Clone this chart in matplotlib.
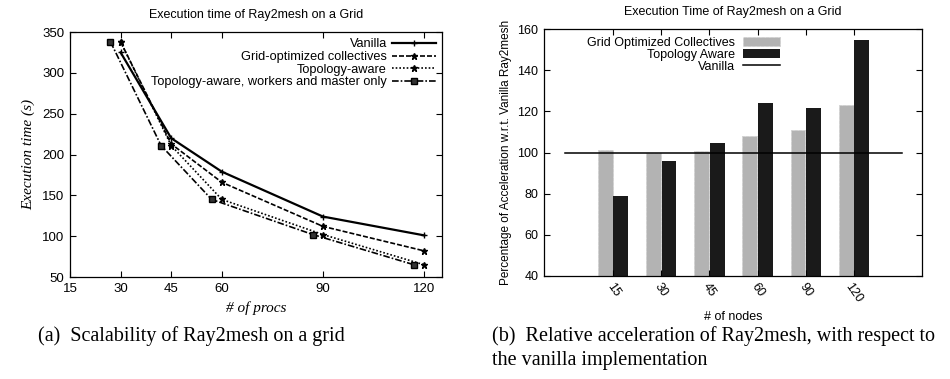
import matplotlib

matplotlib.use("Agg")

import matplotlib.pyplot as plt
import numpy as np

SANS = "Liberation Sans"
SERIF = "Liberation Serif"

# left panel: execution time vs number of procs
procs = [30, 45, 60, 90, 120]
procs_shifted = [27, 42, 57, 87, 117]
vanilla_time = [325, 220, 179, 124, 101]
gridopt_time = [338, 213, 166, 112, 82]
topo_time = [338, 211, 145, 102, 65]
topo_workers_time = [338, 211, 145, 102, 65]
left_xticks = [15, 30, 45, 60, 90, 120]

# right panel: acceleration percentage vs number of nodes
nodes = ["15", "30", "45", "60", "90", "120"]
gridopt_pct = [101, 100, 100.5, 108, 111, 123]
topo_pct = [79, 96, 104.5, 124, 121.5, 155]
vanilla_pct = 100

plt.rcParams["font.family"] = SANS
plt.rcParams["font.size"] = 9

fig = plt.figure(figsize=(9.5, 3.79), dpi=100)

# ---------- left ----------
ax1 = fig.add_axes([0.0737, 0.2691, 0.3916, 0.6464])
ax1.plot(procs, vanilla_time, color="black", lw=1.6, marker="+", ms=4, mew=1,
         label="Vanilla")
ax1.plot(procs, gridopt_time, color="black", lw=1.2, dashes=(3, 1.2), marker="*",
         ms=5, label="Grid-optimized collectives")
ax1.plot(procs, topo_time, color="black", lw=1.2, dashes=(1, 1.2), marker="*",
         ms=5, label="Topology-aware")
ax1.plot(procs_shifted, topo_workers_time, color="black", lw=1.2,
         dashes=(4, 1.2, 1, 1.2), marker="s", ms=4.5, mfc="#333333",
         label="Topology-aware, workers and master only")
ax1.set_xlim(15, 125.3)
ax1.set_ylim(50, 350)
ax1.set_xticks(left_xticks)
ax1.set_yticks(range(50, 351, 50))
ax1.tick_params(direction="in", top=True, right=True, length=4, labelsize=9.5,
                pad=4)
ax1.set_title("Execution time of Ray2mesh on a Grid", fontsize=9, pad=10)
ax1.set_xlabel("# of procs", family=SERIF, style="italic", fontsize=11, labelpad=5)
ax1.set_ylabel("Execution time (s)", family=SERIF, style="italic", fontsize=11,
               labelpad=5)
leg1 = ax1.legend(loc="upper right", frameon=False, markerfirst=False,
                  fontsize=9.2, handlelength=3.4, handletextpad=0.4,
                  labelspacing=0.05, borderaxespad=0.1)
leg1._legend_box._children[-1]._children[0].align = "right"

# ---------- right ----------
ax2 = fig.add_axes([0.5726, 0.2726, 0.398, 0.650])
x = np.arange(len(nodes))
w = 0.31
b1 = ax2.bar(x - 0.16, np.array(gridopt_pct) - 40, w, bottom=40, color="#b3b3b3",
             edgecolor="#d0d0d0", linewidth=0.6, linestyle="--",
             label="Grid Optimized Collectives")
b2 = ax2.bar(x + 0.16, np.array(topo_pct) - 40, w, bottom=40, color="#1a1a1a",
             label="Topology Aware")
(l1,) = ax2.plot([-1, 6], [vanilla_pct, vanilla_pct], color="black", lw=1.1,
                 label="Vanilla")
ax2.set_xlim(-1.44, 6.42)
ax2.set_ylim(40, 160)
ax2.set_xticks(x)
ax2.set_xticklabels(nodes, rotation=-55, ha="center", va="top", fontsize=9)
ax2.set_yticks(range(40, 161, 20))
ax2.tick_params(direction="in", top=True, right=True, length=4, labelsize=9,
                pad=4)
ax2.set_title("Execution Time of Ray2mesh on a Grid", fontsize=9, pad=10)
ax2.set_xlabel("# of nodes", fontsize=9, labelpad=4)
ax2.set_ylabel("Percentage of Acceleration w.r.t. Vanilla Ray2mesh",
               fontsize=8.5, labelpad=4)
leg2 = ax2.legend(handles=[b1, b2, l1], loc="upper left",
                  bbox_to_anchor=(0.085, 1.015), frameon=False,
                  markerfirst=False, fontsize=9, handlelength=3.0,
                  handleheight=0.75, handletextpad=0.6, labelspacing=0.0)
leg2._legend_box._children[-1]._children[0].align = "right"

for ax in (ax1, ax2):
    for s in ax.spines.values():
        s.set_linewidth(0.9)

# captions
fig.text(0.040, 0.113, "(a)  Scalability of Ray2mesh on a grid", family=SERIF,
         fontsize=14.5, va="center")
fig.text(0.518, 0.113, "(b)  Relative acceleration of Ray2mesh, with respect to",
         family=SERIF, fontsize=14.5, va="center")
fig.text(0.518, 0.050, "the vanilla implementation", family=SERIF, fontsize=14.5,
         va="center")

fig.savefig("out.png", dpi=100)
